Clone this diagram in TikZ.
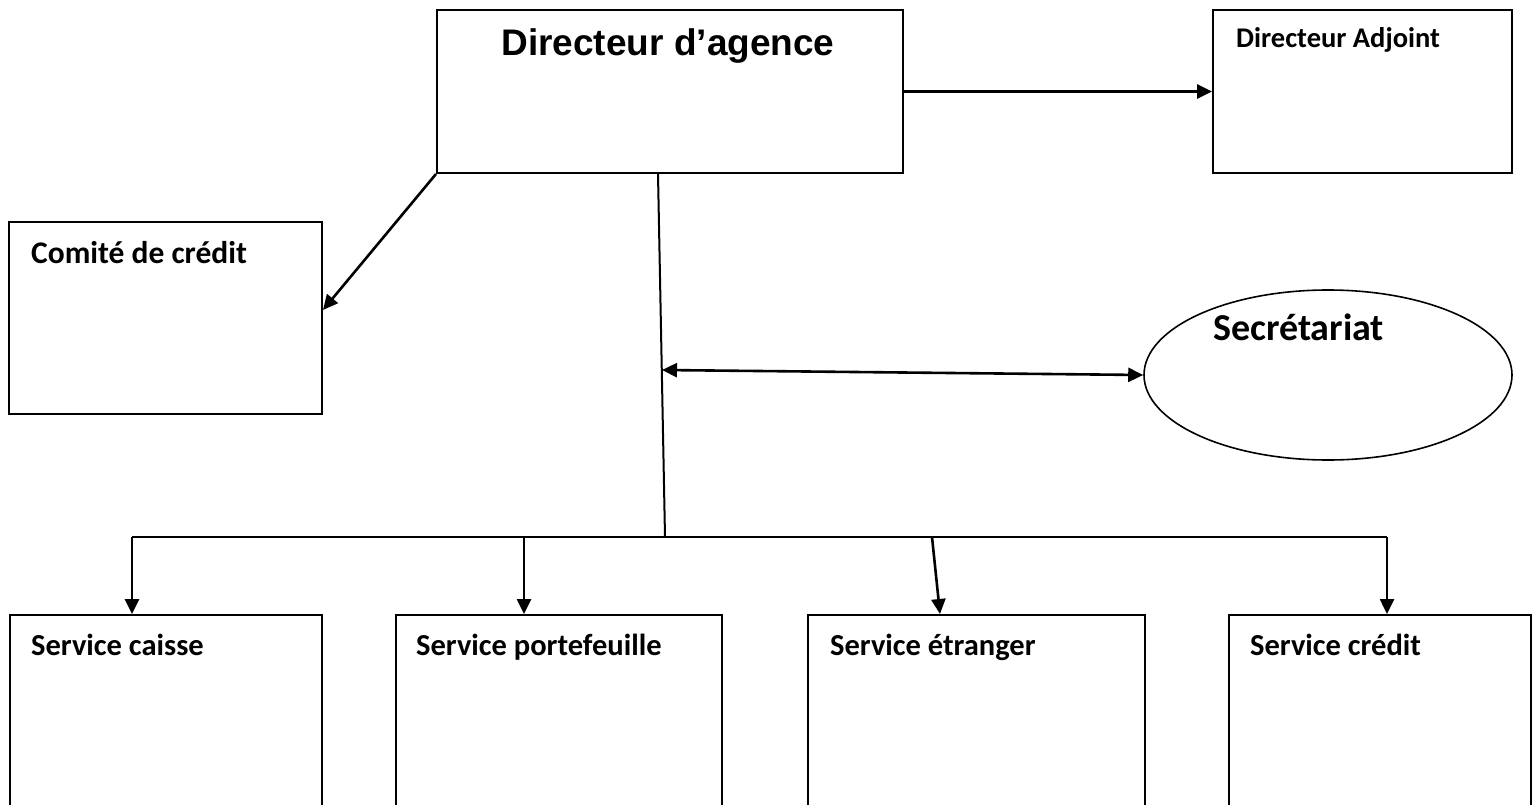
\documentclass[tikz,border=0pt]{standalone}
\usepackage{fontspec}
\setmainfont{Carlito}
\newfontfamily\arialfont{Liberation Sans}
\usetikzlibrary{arrows.meta,shapes.geometric,calc}
\begin{document}
\begin{tikzpicture}[x=1pt,y=-1pt,
  box/.style={draw,line width=2pt,rectangle,inner sep=0pt},
  oval/.style={draw,line width=1.6pt,ellipse,inner sep=0pt},
  conn/.style={line width=2.6pt,-{Triangle[length=15pt,width=14pt]}},
  dconn/.style={line width=2.6pt,{Triangle[length=15pt,width=14pt]}-{Triangle[length=15pt,width=14pt]}},
  tline/.style={line width=2pt},
  lbl/.style={anchor=base west,inner sep=0pt,font=\bfseries\fontsize{30.5}{34}\selectfont},
]
\clip (0,0) rectangle (1533,805);
\fill[white] (0,0) rectangle (1533,805);
% boxes
\node[box,minimum width=466pt,minimum height=163pt] (dir) at (670,91.5) {};
\node[box,minimum width=299pt,minimum height=163pt] (adj) at (1362.5,91.5) {};
\node[box,minimum width=313pt,minimum height=192pt] (com) at (165.5,318) {};
\node[oval,minimum width=368pt,minimum height=170pt] (sec) at (1328,375) {};
\node[box,minimum width=312pt,minimum height=230pt] (cai) at (166,730) {};
\node[box,minimum width=326pt,minimum height=230pt] (por) at (559,730) {};
\node[box,minimum width=337pt,minimum height=230pt] (etr) at (976.5,730) {};
\node[box,minimum width=302pt,minimum height=230pt] (cre) at (1380,730) {};
% texts
\node[anchor=base,inner sep=0pt,font=\arialfont\bfseries\fontsize{37}{40}\selectfont] (tdir) at (668,56) {Directeur d’agence};
\node[lbl,font=\bfseries\fontsize{28.5}{32}\selectfont] (tadj) at (1236,48) {Directeur Adjoint};
\node[lbl,font=\bfseries\fontsize{31.5}{34}\selectfont] (tcom) at (31,263) {Comité de crédit};
\node[lbl,font=\bfseries\fontsize{38}{42}\selectfont] (tsec) at (1213,340) {Secrétariat};
\node[lbl] (tcai) at (31,655) {Service caisse};
\node[lbl] (tpor) at (416,655) {Service portefeuille};
\node[lbl] (tetr) at (830,655) {Service étranger};
\node[lbl] (tcre) at (1250,655) {Service crédit};
% coordinates
\coordinate (top) at ($(dir.south)+(-12,0)$);
\coordinate (hub) at (665,537);
\coordinate (sl) at (662,370);
\coordinate (b1) at (132,537);
\coordinate (b2) at (524,537);
\coordinate (b3) at (932,537);
\coordinate (b4) at (1387,537);
% connectors
\draw[conn] (dir.east) -- (dir.east -| adj.west);
\draw[conn] (dir.south west) -- ($(com.east)+(0,-8)$);
\draw[tline] (top) -- (hub);
\draw[dconn] (sl) -- (sec.west);
\draw[tline] (b1) -- (b4);
\draw[conn] (b1) -- (b1 |- cai.north);
\draw[conn] (b2) -- (b2 |- por.north);
\draw[conn] (b3) -- ($(etr.north west)+(133,0)$);
\draw[conn] (b4) -- (b4 |- cre.north);
\end{tikzpicture}
\end{document}
